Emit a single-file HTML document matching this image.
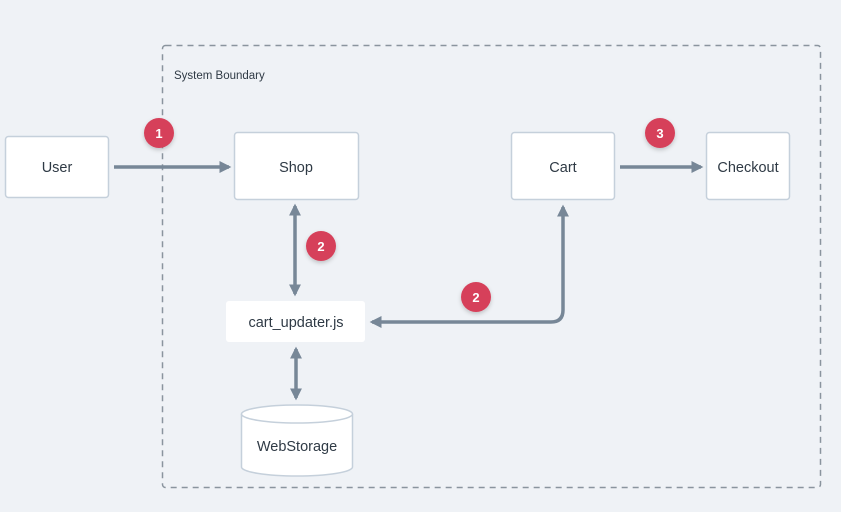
<!DOCTYPE html>
<html><head><style>
body{margin:0;background:#eff2f6;}
svg{display:block;font-family:"Liberation Sans","DejaVu Sans",sans-serif;}
</style></head><body>
<svg width="841" height="512" viewBox="0 0 841 512">
<defs>
<marker id="a" viewBox="0 0 10 10" refX="8" refY="5" markerWidth="3.4" markerHeight="3.4" orient="auto-start-reverse"><path d="M0,0L10,5L0,10z" fill="#778797"/></marker>
<filter id="s" x="-50%" y="-50%" width="200%" height="200%"><feDropShadow dx="0" dy="2" stdDeviation="2" flood-opacity="0.2"/></filter>
</defs>
<rect x="162.5" y="45.5" width="658" height="442" rx="3" fill="none" stroke="#8a949e" stroke-width="1.5" stroke-dasharray="6,5"/>
<text x="174" y="79" font-size="11.5" fill="#2f3a45">System Boundary</text>
<g stroke="#778797" stroke-width="3.5" fill="none">
<line x1="114" y1="167" x2="229" y2="167" marker-end="url(#a)"/>
<line x1="295" y1="206" x2="295" y2="294" marker-start="url(#a)" marker-end="url(#a)"/>
<path d="M563,207 V310 Q563,322 551,322 H372" marker-start="url(#a)" marker-end="url(#a)"/>
<line x1="296" y1="349" x2="296" y2="398" marker-start="url(#a)" marker-end="url(#a)"/>
<line x1="620" y1="167" x2="701" y2="167" marker-end="url(#a)"/>
</g>
<g fill="#fff" stroke="#c5d0db" stroke-width="1.5">
<rect x="5.5" y="136.5" width="103" height="61" rx="3"/>
<rect x="234.5" y="132.5" width="124" height="67" rx="3"/>
<rect x="511.5" y="132.5" width="103" height="67" rx="3"/>
<rect x="706.5" y="132.5" width="83" height="67" rx="3"/>
<path d="M241.5,414 V467 A55.5,9 0 0 0 352.5,467 V414"/>
<ellipse cx="297" cy="414" rx="55.5" ry="9"/>
</g>
<rect x="226" y="301" width="139" height="41" rx="3" fill="#fff"/>
<g font-size="14.5" fill="#2f3a45" text-anchor="middle">
<text x="57" y="172">User</text>
<text x="296" y="172">Shop</text>
<text x="563" y="172">Cart</text>
<text x="748" y="172">Checkout</text>
<text x="296" y="327">cart_updater.js</text>
<text x="297" y="451">WebStorage</text>
</g>
<g filter="url(#s)" fill="#d6405a">
<circle cx="159" cy="133" r="15"/>
<circle cx="321" cy="246" r="15"/>
<circle cx="476" cy="297" r="15"/>
<circle cx="660" cy="133" r="15"/>
</g>
<g font-size="13" font-weight="bold" fill="#fff" text-anchor="middle">
<text x="159" y="138">1</text>
<text x="321" y="251">2</text>
<text x="476" y="302">2</text>
<text x="660" y="138">3</text>
</g>
</svg>
</body></html>
